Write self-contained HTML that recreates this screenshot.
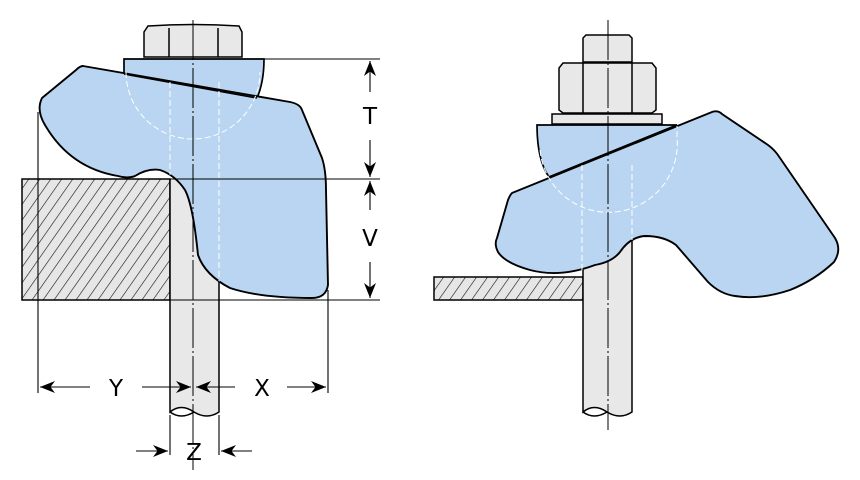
<!DOCTYPE html>
<html><head><meta charset="utf-8"><style>html,body{margin:0;padding:0;background:#fff}svg{display:block}</style></head>
<body>
<svg width="860" height="480" viewBox="0 0 860 480" xmlns="http://www.w3.org/2000/svg">
<defs>
<pattern id="h" width="9" height="9" patternUnits="userSpaceOnUse" patternTransform="rotate(35)">
<rect width="9" height="9" fill="#e6e6e6"/><line x1="0" y1="0" x2="0" y2="9" stroke="#111" stroke-width="1.2"/>
</pattern>
<marker id="a" viewBox="0 0 10 10" refX="10" refY="5" markerWidth="15" markerHeight="15" markerUnits="userSpaceOnUse" orient="auto"><path d="M0,1 L10,5 L0,9 L3,5z" fill="#000"/></marker>
<clipPath id="c1"><path d="M83,66 L290,102 Q300,104 302,110 L322,158 Q326,170 326,190 L328,285 Q326,298 312,298 Q260,298 230,288 Q205,275 198,255 Q193,205 185,190 Q175,175 160,170 Q148,168 135,176 Q128,179 118,176 Q70,168 45,125 Q36,110 42,98 L76,70 Q80,66 83,66 Z M124,59 H264 Q264,82 257,98 L124,74 Z"/></clipPath>
</defs>
<g stroke="#000" stroke-width="1.5" fill="none">
<!-- LEFT -->
<rect x="22" y="179" width="148" height="121" fill="url(#h)"/>
<path d="M170,179 V412 Q181,403 194,412 Q207,420 219,412 V179" fill="#e8e8e8"/>
<path d="M170,412 Q181,420 194,412" />
<path d="M144,57 V32 L148,26 Q193,23 239,26 L242,32 V57 Z" fill="#e8e8e8"/>
<path d="M169,28 V57 M218,28 V57"/>
<path d="M124,59 H264 Q264,82 257,98 L124,74 Z" fill="#b9d5f1" stroke-width="1.7"/>
<path d="M83,66 L290,102 Q300,104 302,110 L322,158 Q326,170 326,190 L328,285 Q326,298 312,298 Q260,298 230,288 Q205,275 198,255 Q193,205 185,190 Q175,175 160,170 Q148,168 135,176 Q128,179 118,176 Q70,168 45,125 Q36,110 42,98 L76,70 Q80,66 83,66 Z" fill="#b9d5f1" stroke-width="1.9"/>
<path d="M124,74 L257,98" stroke-width="1.6"/>
<g stroke="#fff" stroke-dasharray="6,3" stroke-width="1" clip-path="url(#c1)">
<path d="M126,72 A67,67 0 0 0 260,72"/><path d="M170,82 V298 M219,82 V298"/>
</g>
<path d="M193,20 V470" stroke-dasharray="40,3,2,3" stroke-width="1"/>
<g stroke-width="1.1">
<path d="M264,59 H380 M170,179 H380 M22,300 H380"/>
<path d="M38,112 V393 M328,290 V393"/>
<path d="M370,92 V61" marker-end="url(#a)"/><path d="M370,140 V177" marker-end="url(#a)"/>
<path d="M370,210 V181" marker-end="url(#a)"/><path d="M370,262 V298" marker-end="url(#a)"/>
<path d="M90,387 H40" marker-end="url(#a)"/><path d="M142,387 H191" marker-end="url(#a)"/>
<path d="M235,387 H196" marker-end="url(#a)"/><path d="M287,387 H326" marker-end="url(#a)"/>
<path d="M170,415 V455 M219,415 V455"/>
<path d="M136,451 H168" marker-end="url(#a)"/><path d="M252,451 H221" marker-end="url(#a)"/>
</g>
<!-- RIGHT -->
<rect x="434" y="277" width="149" height="23" fill="url(#h)"/>
<path d="M583,124 V412 Q594,403 607,412 Q620,420 632,412 V124" fill="#e8e8e8"/>
<path d="M583,412 Q594,420 607,412"/>
<path d="M583,62 V38 L586,35 H629 L632,38 V62 Z" fill="#e8e8e8"/>
<path d="M559,110 V68 L563,63 H652 L656,68 V110 L652,113 H563 Z" fill="#e8e8e8"/>
<path d="M583,63 V113 M632,63 V113"/>
<rect x="552" y="114" width="110" height="10" fill="#e8e8e8"/>
<path d="M537,125 H677 L549,177 Q537,160 537,125 Z" fill="#b9d5f1" stroke-width="1.7"/>
<path d="M512,193 L712,112 Q718,110 722,114 L768,145 Q775,150 780,158 L835,238 Q842,250 834,262 Q815,280 790,290 Q760,300 735,296 Q720,294 708,282 L676,245 Q664,236 645,236 Q630,237 620,252 Q612,262 595,265 Q560,278 530,270 Q505,263 498,252 Q494,244 497,238 L508,200 Q510,195 512,193 Z" fill="#b9d5f1" stroke-width="1.9"/>
<path d="M549,177 L677,125" stroke-width="1.6"/>
<g stroke="#fff" stroke-dasharray="6,3" stroke-width="1">
<path d="M540,150 A68,68 0 0 0 677,137 V126"/><path d="M582,165 V272 M632,165 V240"/>
</g>
<path d="M608,20 V430" stroke-dasharray="40,3,2,3" stroke-width="1"/>
</g>
<g font-family="DejaVu Sans, sans-serif" font-size="23" text-anchor="middle" fill="#000">
<text x="370" y="124">T</text><text x="370" y="246">V</text>
<text x="116" y="396">Y</text><text x="262" y="396">X</text><text x="194" y="460">Z</text>
</g>
</svg>
</body></html>
